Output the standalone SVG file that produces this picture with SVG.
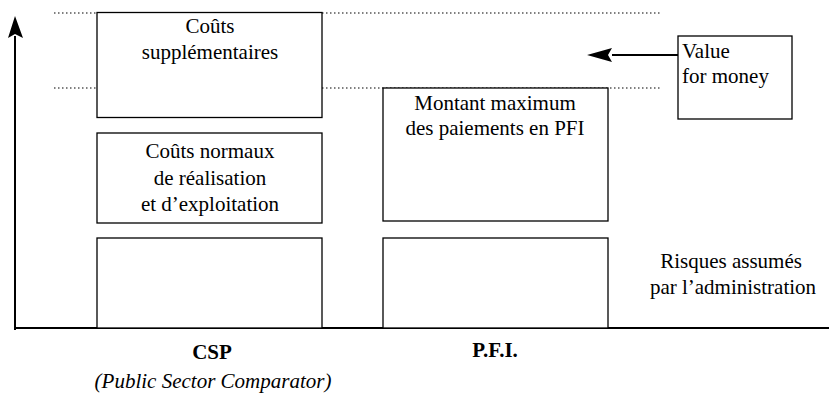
<svg xmlns="http://www.w3.org/2000/svg" width="829" height="397" viewBox="0 0 829 397">
<style>
.box{fill:#fff;stroke:#000;stroke-width:1.3}
.dot{stroke:#000;stroke-width:1.2;stroke-dasharray:1.5 2.5;fill:none}
text{font-family:'Liberation Serif','DejaVu Serif','Times New Roman',serif;font-size:21px;fill:#000}
.c{text-anchor:middle}
.b{font-weight:bold}
.i{font-style:italic}
</style>
<g id="guides">
<line class="dot" x1="54" y1="13" x2="660" y2="13"/>
<line class="dot" x1="54" y1="88" x2="660" y2="88"/>
</g>
<g id="axes">
<line x1="15" y1="328" x2="829" y2="328" stroke="#000" stroke-width="2"/>
<line x1="15" y1="330" x2="15" y2="36" stroke="#000" stroke-width="2"/>
<path d="M15,16 L23,38 L15,34 L8,38 Z" fill="#000"/>
</g>
<g id="couts-supp">
<rect class="box" x="97" y="12.5" width="225" height="105"/>
<text class="c" x="210" y="33">Coûts</text>
<text class="c" x="210" y="59">supplémentaires</text>
</g>
<g id="couts-normaux">
<rect class="box" x="97" y="133" width="225" height="90"/>
<text class="c" x="210" y="158">Coûts normaux</text>
<text class="c" x="210" y="185">de réalisation</text>
<text class="c" x="210" y="211">et d’exploitation</text>
</g>
<g id="csp-risques">
<rect class="box" x="97" y="238" width="225" height="90"/>
</g>
<g id="montant-pfi">
<rect class="box" x="383" y="88" width="225" height="133"/>
<text class="c" x="495" y="110">Montant maximum</text>
<text class="c" x="495" y="135">des paiements en PFI</text>
</g>
<g id="pfi-risques">
<rect class="box" x="383" y="238" width="225" height="90"/>
</g>
<g id="value">
<rect class="box" x="678" y="36" width="114" height="83"/>
<text x="682" y="58">Value</text>
<text x="682" y="83">for money</text>
</g>
<g id="connectors">
<path d="M678,55 L612,55" stroke="#000" stroke-width="2"/>
<path d="M587,55 L612,48 L608,55 L612,62 Z" fill="#000"/>
</g>
<g id="labels">
<text class="c" x="731" y="268">Risques assumés</text>
<text class="c" x="733" y="294">par l’administration</text>
<text class="c b" x="495" y="357">P.F.I.</text>
<text class="c b" x="212" y="359">CSP</text>
<text class="c i" x="213" y="388" font-size="20">(Public Sector Comparator)</text>
</g>
</svg>
